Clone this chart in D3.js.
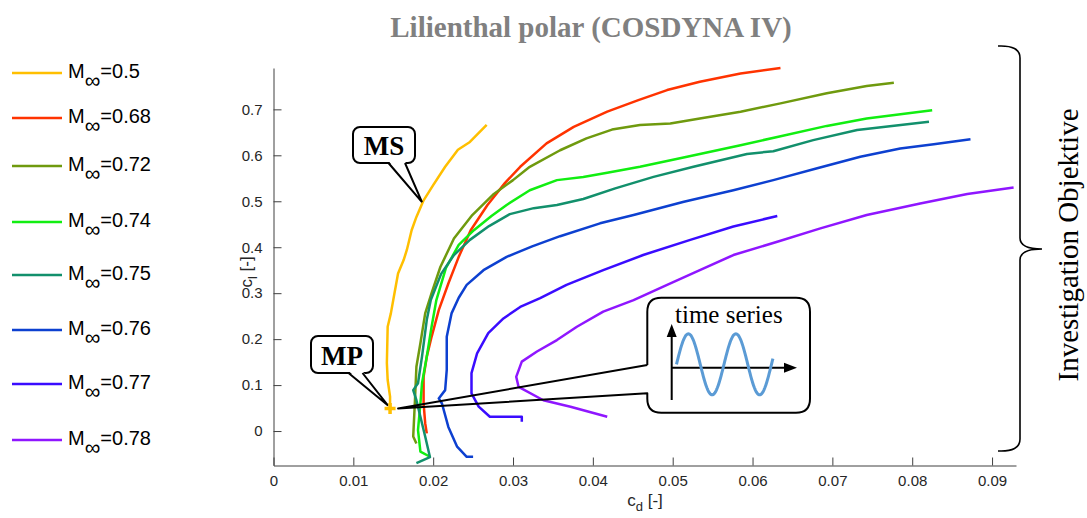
<!DOCTYPE html>
<html>
<head>
<meta charset="utf-8">
<script src="https://cdn.jsdelivr.net/npm/d3@7"></script>
<style>
  html, body { margin: 0; padding: 0; background: #fff; }
  svg { display: block; }
  .tick line, .domain { stroke: #404040; }
</style>
</head>
<body>
<svg id="chart" width="1087" height="518"></svg>
<script>
/* ---- Data: Lilienthal polars, [c_d, c_l] ---- */
const MACH = ['0.5', '0.68', '0.72', '0.74', '0.75', '0.76', '0.77', '0.78'];

const M050 = [[0.0146,0.049],[0.0146,0.075],[0.0143,0.111],[0.0142,0.148],[0.0143,0.227],[0.0147,0.256],
  [0.0150,0.285],[0.0156,0.343],[0.0163,0.372],[0.0167,0.394],[0.0169,0.408],[0.0173,0.437],[0.0179,0.466],
  [0.0188,0.502],[0.0200,0.535],[0.0215,0.575],[0.0231,0.612],[0.0246,0.629],[0.0267,0.666]];

const M068 = [[0.0192,-0.005],[0.0190,0.017],[0.0188,0.060],[0.0188,0.118],[0.0192,0.162],[0.0198,0.205],
  [0.0207,0.263],[0.0219,0.321],[0.0232,0.379],[0.0247,0.437],[0.0268,0.492],[0.0290,0.540],[0.0309,0.575],
  [0.0342,0.626],[0.0376,0.662],[0.0418,0.695],[0.0457,0.720],[0.0493,0.742],[0.0534,0.760],[0.0585,0.778],
  [0.0635,0.790]];

const M072 = [[0.0179,-0.027],[0.0175,-0.012],[0.0177,0.060],[0.0179,0.140],[0.0184,0.191],[0.0190,0.256],
  [0.0198,0.300],[0.0209,0.357],[0.0226,0.419],[0.0249,0.470],[0.0276,0.516],[0.0300,0.546],[0.0321,0.575],
  [0.0359,0.611],[0.0392,0.637],[0.0424,0.656],[0.0459,0.666],[0.0497,0.669],[0.0534,0.680],[0.0585,0.695],
  [0.0635,0.713],[0.0693,0.735],[0.0743,0.751],[0.0777,0.758]];

const M074 = [[0.0196,-0.056],[0.0184,-0.045],[0.0181,0.002],[0.0184,0.060],[0.0186,0.104],[0.0192,0.162],
  [0.0198,0.227],[0.0204,0.285],[0.0216,0.355],[0.0232,0.405],[0.0251,0.437],[0.0273,0.468],[0.0292,0.492],
  [0.0321,0.524],[0.0355,0.546],[0.0388,0.553],[0.0418,0.562],[0.0459,0.575],[0.0518,0.597],[0.0585,0.622],
  [0.0631,0.640],[0.0693,0.664],[0.0743,0.680],[0.0825,0.698]];

const M075 = [[0.0179,-0.070],[0.0196,-0.057],[0.0190,-0.012],[0.0184,0.031],[0.0179,0.067],[0.0175,0.089],
  [0.0181,0.104],[0.0186,0.162],[0.0192,0.242],[0.0197,0.285],[0.0210,0.342],[0.0226,0.383],[0.0246,0.416],
  [0.0270,0.446],[0.0296,0.472],[0.0326,0.485],[0.0355,0.492],[0.0388,0.505],[0.0428,0.528],[0.0476,0.553],
  [0.0526,0.575],[0.0593,0.603],[0.0626,0.609],[0.0676,0.633],[0.0731,0.655],[0.0821,0.673]];

const M076 = [[0.0250,-0.056],[0.0242,-0.056],[0.0230,-0.034],[0.0219,0.009],[0.0211,0.060],[0.0207,0.071],
  [0.0215,0.089],[0.0217,0.133],[0.0217,0.205],[0.0223,0.256],[0.0232,0.290],[0.0242,0.318],[0.0263,0.350],
  [0.0292,0.379],[0.0324,0.402],[0.0359,0.424],[0.0409,0.452],[0.0451,0.470],[0.0514,0.499],[0.0576,0.524],
  [0.0626,0.546],[0.0681,0.572],[0.0735,0.597],[0.0785,0.615],[0.0827,0.624],[0.0873,0.635]];

const M077 = [[0.0311,0.020],[0.0311,0.031],[0.0271,0.031],[0.0257,0.053],[0.0248,0.082],[0.0248,0.126],
  [0.0255,0.169],[0.0269,0.213],[0.0288,0.245],[0.0309,0.270],[0.0334,0.289],[0.0367,0.318],[0.0413,0.350],
  [0.0463,0.383],[0.0522,0.416],[0.0576,0.445],[0.0631,0.468]];

const M078 = [[0.0418,0.031],[0.0372,0.053],[0.0338,0.067],[0.0307,0.096],[0.0304,0.118],[0.0311,0.151],
  [0.0330,0.173],[0.0355,0.198],[0.0380,0.227],[0.0413,0.260],[0.0451,0.285],[0.0493,0.318],[0.0534,0.350],
  [0.0576,0.383],[0.0631,0.412],[0.0685,0.441],[0.0743,0.470],[0.0810,0.495],[0.0869,0.516],[0.0927,0.530]];

const POLARS = [M050, M068, M072, M074, M075, M076, M077, M078];

const X_TICKS = [0, 0.01, 0.02, 0.03, 0.04, 0.05, 0.06, 0.07, 0.08, 0.09];
const Y_TICKS = [0, 0.1, 0.2, 0.3, 0.4, 0.5, 0.6, 0.7];

const MP_POINT = [0.0146, 0.049];   // design point (M=0.5)
const MS_POINT = [0.0186, 0.498];   // on the M=0.5 polar

/* ---- Styles / layout ---- */
const COLORS = ['#ffbf00', '#ff3300', '#6f9a0e', '#11ee11', '#12906c', '#0d40d0', '#3a0cff', '#8f16ff'];
const LEGEND_Y = [73, 118, 166, 222, 275, 330, 384, 440];
const SANS = '"Liberation Sans", Arial, sans-serif';
const SERIF = '"Liberation Serif", "Times New Roman", serif';

const svg = d3.select('#chart');

const x = d3.scaleLinear().domain([0, 0.093]).range([273.5, 1016]);
const y = d3.scaleLinear().domain([-0.075, 0.79]).range([465.5, 68]);

/* ---- Axes (MATLAB style, ticks inside) ---- */
const gx = svg.append('g')
  .attr('transform', `translate(0,${y.range()[0]})`)
  .call(d3.axisBottom(x).tickValues(X_TICKS).tickFormat(d => d === 0 ? '0' : d3.format('.2f')(d))
    .tickSize(-8).tickSizeOuter(0).tickPadding(10));

const gy = svg.append('g')
  .attr('transform', `translate(${x.range()[0]},0)`)
  .call(d3.axisLeft(y).tickValues(Y_TICKS).tickFormat(d => d === 0 ? '0' : d3.format('.1f')(d))
    .tickSize(-8).tickSizeOuter(0).tickPadding(11));

[gx, gy].forEach(g => g.selectAll('.tick text')
  .style('font-family', SANS).style('font-size', '15px').attr('fill', '#262626'));

// axis titles
const xl = svg.append('text').attr('x', 645).attr('y', 506).attr('text-anchor', 'middle')
  .style('font-family', SANS).style('font-size', '17px').attr('fill', '#262626');
xl.append('tspan').text('c');
xl.append('tspan').attr('dy', 5).style('font-size', '13px').text('d');
xl.append('tspan').attr('dy', -5).text(' [-]');

const yl = svg.append('text').attr('transform', 'translate(252,272) rotate(-90)').attr('text-anchor', 'middle')
  .style('font-family', SANS).style('font-size', '17px').attr('fill', '#262626');
yl.append('tspan').text('c');
yl.append('tspan').attr('dy', 5).style('font-size', '13px').text('l');
yl.append('tspan').attr('dy', -5).text(' [-]');

/* ---- Title ---- */
svg.append('text').attr('x', 591).attr('y', 37).attr('text-anchor', 'middle')
  .style('font-family', SERIF).style('font-size', '29px').style('font-weight', 'bold')
  .attr('fill', '#808080').text('Lilienthal polar (COSDYNA IV)');

/* ---- Polars ---- */
const line = d3.line().x(d => x(d[0])).y(d => y(d[1]));
svg.append('g').selectAll('path')
  .data(POLARS)
  .join('path')
    .attr('d', line)
    .attr('fill', 'none')
    .attr('stroke', (d, i) => COLORS[i])
    .attr('stroke-width', 2.5)
    .attr('stroke-linejoin', 'round');

/* ---- Legend ---- */
const leg = svg.append('g').selectAll('g').data(MACH).join('g')
  .attr('transform', (d, i) => `translate(0,${LEGEND_Y[i]})`);
leg.append('line').attr('x1', 12).attr('x2', 62).attr('y1', 0).attr('y2', 0)
  .attr('stroke', (d, i) => COLORS[i]).attr('stroke-width', 2.5);
const lt = leg.append('text').attr('x', 68).attr('y', 5)
  .style('font-family', SANS).style('font-size', '20px').attr('fill', '#000');
lt.append('tspan').text('M');
lt.append('tspan').attr('dy', 10).style('font-size', '22px').text('\u221E');
lt.append('tspan').attr('dy', -10).text(d => '=' + d);

/* ---- Callouts ---- */
const ann = svg.append('g').attr('stroke', '#000').attr('stroke-width', 2);

function callout(label, bx, by, bw, bh, p1, p2, tip) {
  ann.append('rect').attr('x', bx).attr('y', by).attr('width', bw).attr('height', bh)
    .attr('rx', 7).attr('fill', '#fff');
  ann.append('path').attr('stroke', 'none').attr('fill', '#fff')
    .attr('d', `M${p1},${by + bh - 2}L${tip[0]},${tip[1]}L${p2},${by + bh - 2}Z`);
  ann.append('path').attr('fill', 'none')
    .attr('d', `M${p1},${by + bh}L${tip[0]},${tip[1]}L${p2},${by + bh}`);
  svg.append('text').attr('x', bx + bw / 2).attr('y', by + bh - 8).attr('text-anchor', 'middle')
    .style('font-family', SERIF).style('font-size', '27px').style('font-weight', 'bold')
    .text(label);
}

callout('MS', 353, 127, 62, 36, 388.5, 405, [x(MS_POINT[0]), y(MS_POINT[1])]);
callout('MP', 311, 336, 62, 37, 348.5, 362.5, [x(MP_POINT[0]) - 2, y(MP_POINT[1]) - 3]);

// MP marker
const mpx = x(MP_POINT[0]), mpy = y(MP_POINT[1]);
svg.append('path').attr('d', `M${mpx - 5.5},${mpy}H${mpx + 5.5}M${mpx},${mpy - 5.5}V${mpy + 5.5}`)
  .attr('stroke', COLORS[0]).attr('stroke-width', 3.5);

// time series box with pointer
const tb = { x0: 647.3, y0: 297.7, x1: 810, y1: 412.7, r: 14 };
const tipX = mpx + 8, tipY = mpy;
ann.append('path').attr('fill', 'none').attr('stroke-linejoin', 'round')
  .attr('d', `M${tb.x0},365V${tb.y0 + tb.r}Q${tb.x0},${tb.y0} ${tb.x0 + tb.r},${tb.y0}` +
    `H${tb.x1 - tb.r}Q${tb.x1},${tb.y0} ${tb.x1},${tb.y0 + tb.r}` +
    `V${tb.y1 - tb.r}Q${tb.x1},${tb.y1} ${tb.x1 - tb.r},${tb.y1}` +
    `H${tb.x0 + tb.r}Q${tb.x0},${tb.y1} ${tb.x0},${tb.y1 - tb.r}` +
    `V393.3L${tipX},${tipY}L${tb.x0},365`);

svg.append('text').attr('x', 675).attr('y', 323).style('font-family', SERIF)
  .style('font-size', '25px').text('time series');

// icon axes
const ax0 = 671.7, ay0 = 367.7;
ann.append('path').attr('d', `M${ax0},400V334M${ax0},${ay0}H786`);
ann.append('path').attr('stroke', 'none').attr('fill', '#000')
  .attr('d', `M${ax0},324L${ax0 - 5},337L${ax0 + 5},337Z M797,${ay0}L784,${ay0 - 5}L784,${ay0 + 5}Z`);

// icon sine wave (pictogram)
const sine = d3.range(0, 2.04, 0.01).map(t => [676.5 + t * 47.5, 364.3 - 30.5 * Math.sin(2 * Math.PI * t)]);
svg.append('path').attr('d', d3.line()(sine)).attr('fill', 'none')
  .attr('stroke', '#5b9bd5').attr('stroke-width', 3);

/* ---- Brace + side label ---- */
svg.append('path').attr('fill', 'none').attr('stroke', '#000').attr('stroke-width', 1.6)
  .attr('d', 'M998,46Q1020,45 1020,58V238Q1020,249 1042,249Q1020,249 1020,260V439Q1020,452 998,451');

svg.append('text').attr('transform', 'translate(1078,245) rotate(-90)').attr('text-anchor', 'middle')
  .style('font-family', SERIF).style('font-size', '29px').text('Investigation Objektive');
</script>
</body>
</html>
